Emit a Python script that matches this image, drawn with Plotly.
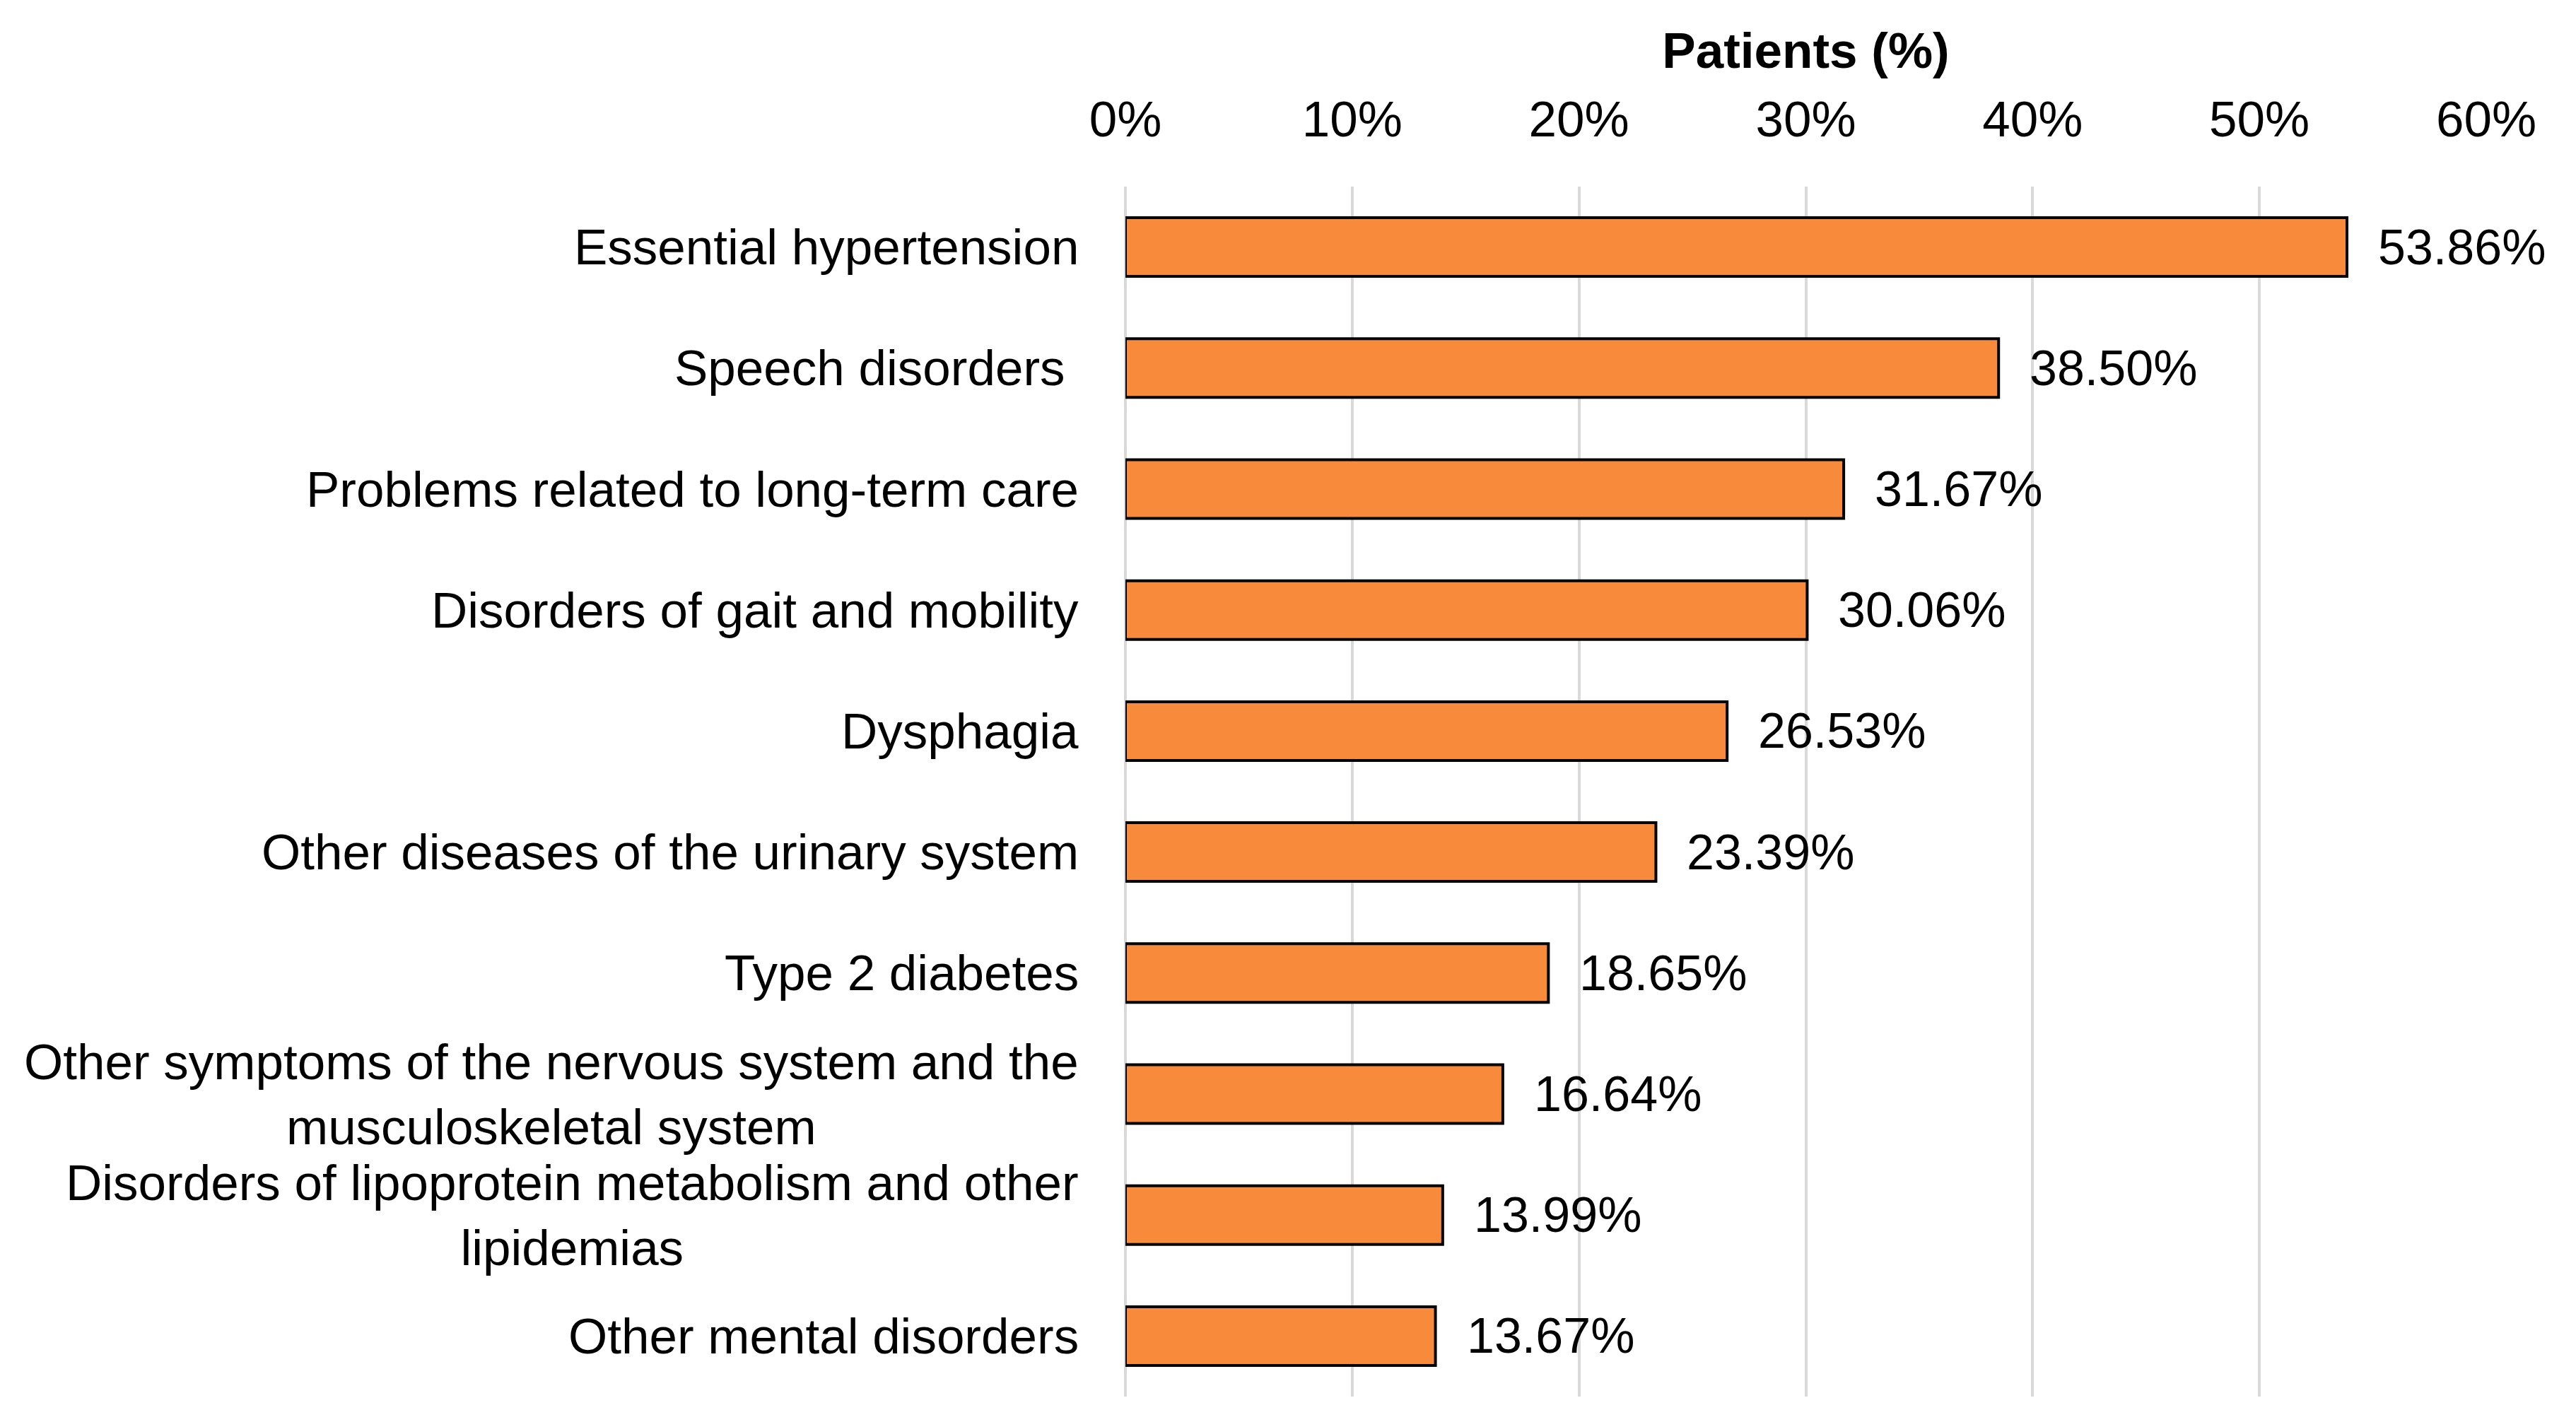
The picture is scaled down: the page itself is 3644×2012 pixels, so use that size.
import plotly.graph_objects as go

# --- data ---
categories = [
    "Essential hypertension",
    "Speech disorders\u00a0",
    "Problems related to long-term care",
    "Disorders of gait and mobility",
    "Dysphagia",
    "Other diseases of the urinary system",
    "Type 2 diabetes",
    "Other symptoms of the nervous system and the<br>musculoskeletal system",
    "Disorders of lipoprotein metabolism and other<br>lipidemias",
    "Other mental disorders",
]
patients_pct = [53.86, 38.50, 31.67, 30.06, 26.53, 23.39, 18.65, 16.64, 13.99, 13.67]
x_ticks = [0, 10, 20, 30, 40, 50, 60]
x_tick_labels = ["0%", "10%", "20%", "30%", "40%", "50%", "60%"]

FONT = "Liberation Sans, Arial, sans-serif"
FS = 71
GRID = "#D9D9D9"

# --- build plot ---
fig = go.Figure()
fig.add_trace(go.Bar(
    x=patients_pct, y=categories, orientation="h",
    marker=dict(color="#F88A3B", line=dict(color="black", width=4)),
    showlegend=False,
))

# value labels to the right of each bar
for cat, v in zip(categories, patients_pct):
    fig.add_annotation(x=v, y=cat, xref="x", yref="y", text=f"{v:.2f}%",
                       showarrow=False, xanchor="left", xshift=42,
                       font=dict(family=FONT, size=70, color="black"))

# category labels (centred multi-line text like the original)
for cat in categories:
    fig.add_annotation(x=0, y=cat, xref="paper", yref="y", text=cat,
                       showarrow=False, xanchor="right", align="center",
                       xshift=-64, font=dict(family=FONT, size=FS, color="black"))

fig.update_layout(
    width=3644, height=2012,
    paper_bgcolor="white", plot_bgcolor="white",
    margin=dict(l=1584, r=135, t=256, b=44),
    bargap=0.515,
    font=dict(family=FONT, size=FS, color="black"),
    xaxis=dict(
        side="top", range=[0, 60], tickvals=x_ticks, ticktext=x_tick_labels,
        showgrid=True, gridcolor=GRID, gridwidth=4,
        zeroline=True, zerolinecolor=GRID, zerolinewidth=4,
        showline=False, ticks="", ticklabelstandoff=56,
        title=dict(text="<b>Patients (%)</b>", standoff=8,
                   font=dict(family=FONT, size=FS, color="black")),
        automargin=False, fixedrange=True,
    ),
    yaxis=dict(
        categoryorder="array", categoryarray=categories, autorange="reversed",
        showticklabels=False, showgrid=False, zeroline=False, showline=False,
        automargin=False,
    ),
)

fig.write_html("out.html")
